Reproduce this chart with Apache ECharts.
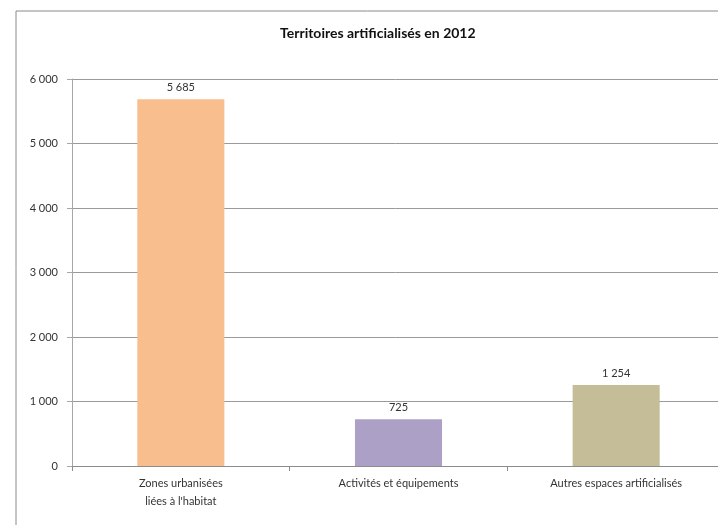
<!DOCTYPE html>
<html>
<head>
<meta charset="utf-8">
<script src="https://cdn.jsdelivr.net/npm/echarts@6/dist/echarts.min.js"></script>
<style>html,body{margin:0;padding:0;background:#fff;}#c{width:718px;height:525px;}</style>
</head>
<body>
<div id="c"></div>
<script>
const categories = ["Zones urbanisées\nliées à l'habitat", "Activités et équipements", "Autres espaces artificialisés"];
const values = [5685, 725, 1254];
const barColors = ["#F9BE8E", "#ADA0C6", "#C4BD97"];
const yTicks = [0, 1000, 2000, 3000, 4000, 5000, 6000];
const titleText = "Territoires artificialisés en 2012";

function fmt(v) { return String(v).replace(/\B(?=(\d{3})+(?!\d))/g, " "); }

const FONT = "Lato, 'Open Sans', sans-serif";
const chart = echarts.init(document.getElementById('c'));
chart.setOption({
  animation: false,
  backgroundColor: '#fff',
  title: {
    text: titleText, left: 275, top: 21,
    textStyle: { fontFamily: FONT, fontSize: 14, fontWeight: 'bold', color: '#111' }
  },
  graphic: [{
    type: 'rect', shape: { x: 16, y: 11, width: 760, height: 530 },
    style: { fill: 'none', stroke: '#8a8a8a', lineWidth: 1 }, silent: true, z: -1
  }],
  grid: { left: 72, width: 653, top: 79, bottom: 59, containLabel: false, outerBoundsMode: 'none' },
  xAxis: {
    type: 'category', data: categories,
    axisLine: { lineStyle: { color: '#8c8c8c' } },
    axisTick: { show: true, alignWithLabel: false, length: 5, lineStyle: { color: '#8c8c8c' } },
    axisLabel: { fontFamily: FONT, fontSize: 11, color: '#333', margin: 8, lineHeight: 18, interval: 0 }
  },
  yAxis: {
    type: 'value', min: yTicks[0], max: yTicks[yTicks.length - 1], interval: 1000,
    axisLine: { show: true, lineStyle: { color: '#a6a6a6' } },
    axisTick: { show: true, length: 5, lineStyle: { color: '#a6a6a6' } },
    splitLine: { lineStyle: { color: '#9a9a9a', width: 1 } },
    axisLabel: { fontFamily: FONT, fontSize: 11, color: '#333', margin: 14, formatter: v => fmt(v) }
  },
  series: [{
    type: 'bar', barWidth: '40%',
    data: values.map((v, i) => ({ value: v, itemStyle: { color: barColors[i] } })),
    label: { show: true, position: 'top', distance: 6, fontFamily: FONT, fontSize: 11, color: '#333', formatter: p => fmt(p.value) }
  }]
});
</script>
</body>
</html>
